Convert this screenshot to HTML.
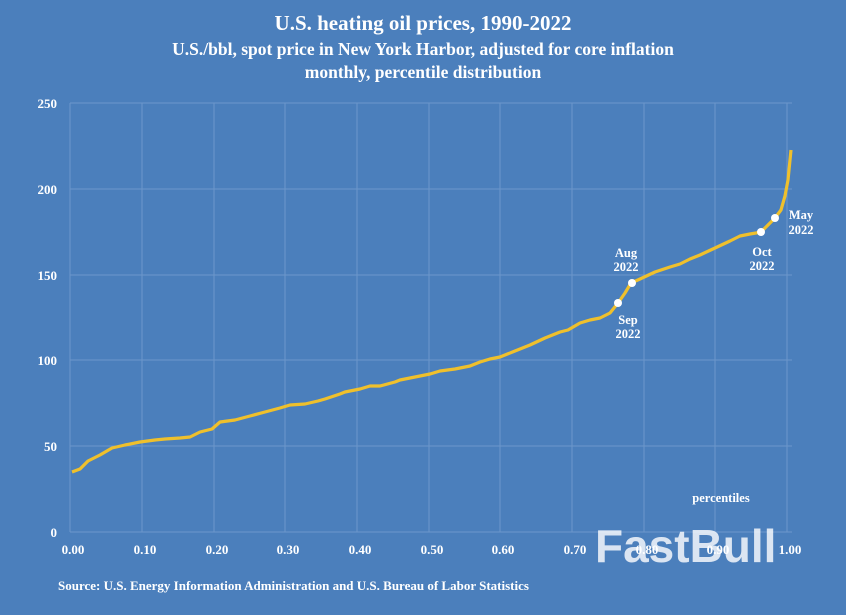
<!DOCTYPE html>
<html><head><meta charset="utf-8"><style>
html,body{margin:0;padding:0;background:#4b7fbc;}
svg{display:block}
text{font-family:"Liberation Serif",serif;font-weight:bold;fill:#fff}
</style></head><body>
<svg width="846" height="615" viewBox="0 0 846 615">
<rect width="846" height="615" fill="#4b7fbc"/>
<text x="423" y="30" font-size="21" text-anchor="middle">U.S. heating oil prices, 1990-2022</text>
<text x="423" y="55" font-size="17.5" text-anchor="middle">U.S./bbl, spot price in New York Harbor, adjusted for core inflation</text>
<text x="423" y="78" font-size="17.5" text-anchor="middle">monthly, percentile distribution</text>
<g stroke="#6d97cb" stroke-width="1">
<line x1="70" y1="103" x2="792" y2="103"/><line x1="70" y1="189" x2="792" y2="189"/>
<line x1="70" y1="275" x2="792" y2="275"/><line x1="70" y1="360" x2="792" y2="360"/>
<line x1="70" y1="446" x2="792" y2="446"/><line x1="70" y1="532" x2="792" y2="532"/>
<line x1="70" y1="103" x2="70" y2="532"/><line x1="142" y1="103" x2="142" y2="532"/>
<line x1="214" y1="103" x2="214" y2="532"/><line x1="285" y1="103" x2="285" y2="532"/>
<line x1="357" y1="103" x2="357" y2="532"/><line x1="429" y1="103" x2="429" y2="532"/>
<line x1="500" y1="103" x2="500" y2="532"/><line x1="572" y1="103" x2="572" y2="532"/>
<line x1="644" y1="103" x2="644" y2="532"/><line x1="715" y1="103" x2="715" y2="532"/>
<line x1="787" y1="103" x2="787" y2="532"/>
</g>
<g font-size="13" text-anchor="end">
<text x="57" y="108">250</text><text x="57" y="194">200</text><text x="57" y="280">150</text>
<text x="57" y="365">100</text><text x="57" y="451">50</text><text x="57" y="537">0</text>
</g>
<g font-size="13" text-anchor="middle">
<text x="73" y="554">0.00</text><text x="145" y="554">0.10</text><text x="217" y="554">0.20</text>
<text x="288" y="554">0.30</text><text x="360" y="554">0.40</text><text x="432" y="554">0.50</text>
<text x="503" y="554">0.60</text><text x="575" y="554">0.70</text><text x="647" y="554">0.80</text>
<text x="718" y="554">0.90</text><text x="790" y="554">1.00</text>
</g>
<polyline fill="none" stroke="#efc02c" stroke-width="3.2" stroke-linejoin="round" points="72,472 80,469 88,461 100,455 112,448 125,445 140,442 155,440 165,439 180,438 190,437 200,432 212,429 220,422 235,420 250,416 265,412 280,408 290,405 305,404 318,401 325,399 340,394 345,392 360,389 370,386 380,386 395,382 400,380 415,377 430,374 440,371 455,369 470,366 480,362 490,359 500,357 515,351 530,345 545,338 560,332 568,330 580,323 590,320 600,318 610,313 618,303 625,293 631,283 640,279 655,272 670,267 680,264 690,259 700,255 715,248 730,241 740,236 750,234 756,233 761,232 768,225 775,218 781,210 785,196 788,180 791,150"/>
<g fill="#fff">
<circle cx="618" cy="303" r="4"/><circle cx="632" cy="283" r="4"/>
<circle cx="761" cy="232" r="4"/><circle cx="775" cy="218" r="4"/>
</g>
<g font-size="12.5" text-anchor="middle">
<text x="626" y="257">Aug</text><text x="626" y="271">2022</text>
<text x="628" y="324">Sep</text><text x="628" y="338">2022</text>
<text x="762" y="256">Oct</text><text x="762" y="270">2022</text>
<text x="801" y="219">May</text><text x="801" y="234">2022</text>
<text x="721" y="502">percentiles</text>
</g>
<text x="58" y="590" font-size="13">Source: U.S. Energy Information Administration and U.S. Bureau of Labor Statistics</text>
<text x="595" y="562" font-size="46" style="font-family:'Liberation Sans',sans-serif;font-weight:bold;fill:rgba(255,255,255,0.8)">FastBull</text>
</svg>
</body></html>
